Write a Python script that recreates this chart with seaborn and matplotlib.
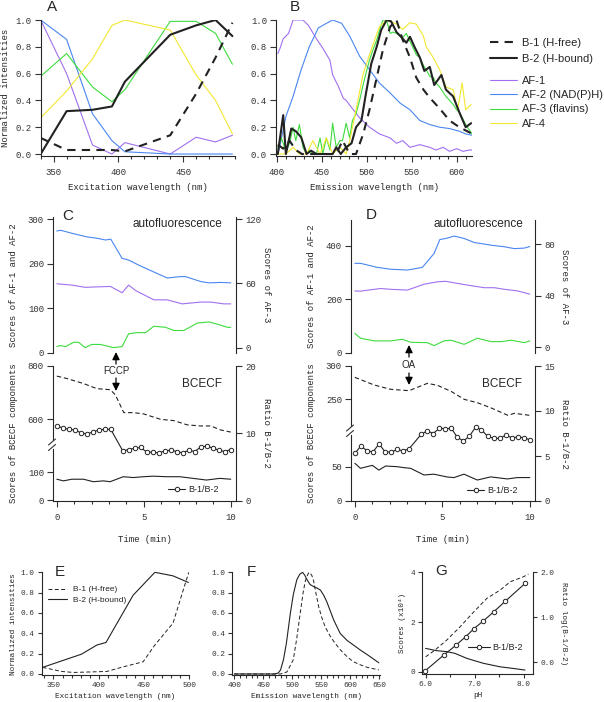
import matplotlib
matplotlib.use("Agg")
import matplotlib.pyplot as plt
import seaborn as sns
from matplotlib.ticker import FormatStrFormatter, MultipleLocator
from matplotlib.lines import Line2D
from matplotlib.patches import FancyArrowPatch

# ---------------- data ----------------
# A: excitation spectra
exc_wl = [340, 360, 380, 395, 405, 440, 460, 475, 488]
a_b1 = [0.12, 0.03, 0.03, 0.03, 0.02, 0.14, 0.45, 0.72, 0.98]
a_b2 = [0.0, 0.32, 0.33, 0.355, 0.54, 0.89, 0.96, 1.0, 0.88]
a_af1 = [1.0, 0.60, 0.067, 0.0, 0.085, 0.0, 0.125, 0.09, 0.14]
a_af2 = [1.0, 0.855, 0.30, 0.10, 0.017, 0.0, 0.0, 0.0, 0.0]
a_af3 = [0.58, 0.75, 0.50, 0.39, 0.48, 0.99, 0.99, 0.90, 0.67]
a_af4 = [0.27, 0.47, 0.71, 0.96, 1.0, 0.925, 0.59, 0.40, 0.15]

# B: emission spectra
b_af1_wl = [401, 403, 407, 413, 418, 429, 435, 444, 451, 459, 462, 468, 474, 477, 485,
            492, 503, 514, 526, 533, 540, 548, 559, 570, 577, 585, 592, 600, 607, 614, 617]
b_af1 = [0.75, 0.78, 0.86, 0.90, 1.0, 1.0, 0.96, 0.86, 0.79, 0.70, 0.59, 0.51, 0.415, 0.40, 0.33,
         0.27, 0.20, 0.15, 0.12, 0.08, 0.10, 0.05, 0.07, 0.05, 0.03, 0.05, 0.02, 0.04, 0.02, 0.03, 0.03]
b_af2_wl = [401, 403, 410, 418, 427, 436, 446, 455, 462, 472, 481, 492, 503, 514, 526,
            537, 548, 559, 570, 581, 592, 603, 610, 617]
b_af2 = [0.0, 0.05, 0.28, 0.43, 0.63, 0.80, 0.94, 0.975, 1.0, 0.975, 0.88, 0.73, 0.63, 0.53, 0.455,
         0.38, 0.33, 0.25, 0.22, 0.20, 0.19, 0.17, 0.15, 0.14]
b_af3_wl = [401, 405, 410, 414, 418, 421, 425, 429, 433, 436, 440, 444, 448, 451, 455, 459, 462,
            466, 470, 473, 477, 481, 484, 488, 492, 496, 499, 503, 507, 511, 514, 518, 522, 526,
            529, 533, 537, 540, 544, 548, 551, 555, 559, 563, 566, 570, 574, 577, 581, 585, 588,
            592, 596, 600, 603, 607, 610, 614, 617]
b_af3 = [0.05, 0.12, 0.02, 0.08, 0.20, 0.10, 0.22, 0.05, 0.0, 0.03, 0.0, 0.0, 0.12, 0.0, 0.12, 0.03,
         0.23, 0.05, 0.10, 0.10, 0.23, 0.12, 0.25, 0.30, 0.40, 0.52, 0.60, 0.70, 0.78, 0.85, 0.92,
         1.0, 1.0, 0.90, 0.91, 0.90, 0.88, 0.87, 0.90, 0.84, 0.80, 0.74, 0.72, 0.66, 0.63, 0.58,
         0.57, 0.53, 0.50, 0.46, 0.43, 0.40, 0.37, 0.33, 0.31, 0.26, 0.22, 0.18, 0.15]
b_af4_wl = [401, 410, 418, 425, 433, 440, 448, 455, 462, 470, 477, 481, 488, 496, 505, 514, 522,
            533, 540, 548, 555, 563, 566, 573, 581, 588, 596, 601, 606, 610, 616]
b_af4 = [0.0, 0.0, 0.05, 0.0, 0.0, 0.10, 0.0, 0.12, 0.0, 0.05, 0.0, 0.10, 0.33, 0.60, 0.78, 0.95,
         1.0, 0.97, 0.93, 0.98, 0.97, 0.88, 0.80, 0.73, 0.63, 0.50, 0.48, 0.33, 0.53, 0.33, 0.37]
b_b2_wl = [401, 407, 410, 416, 421, 427, 433, 438, 444, 450, 458, 462, 466, 471, 477, 483, 488,
           494, 499, 505, 511, 516, 522, 527, 533, 538, 544, 548, 553, 559, 564, 570, 575, 583,
           588, 596, 603, 610, 616]
b_b2 = [0.0, 0.29, 0.0, 0.19, 0.17, 0.125, 0.0, 0.025, 0.0, 0.0, 0.0, 0.0, 0.05, 0.0, 0.05, 0.08,
        0.20, 0.25, 0.45, 0.675, 0.80, 0.925, 1.0, 0.99, 0.91, 0.875, 0.83, 0.875, 0.80, 0.72,
        0.62, 0.65, 0.515, 0.59, 0.48, 0.43, 0.31, 0.20, 0.23]
b_b1_wl = [401, 407, 414, 421, 428, 440, 455, 466, 473, 481, 488, 496, 503, 511, 518, 526, 533,
           540, 548, 555, 563, 570, 581, 592, 603, 616]
b_b1 = [0.07, 0.04, 0.10, 0.03, 0.0, 0.0, 0.0, 0.0, 0.10, 0.0, 0.0, 0.15, 0.33, 0.57, 0.78, 0.95,
        1.0, 0.85, 0.72, 0.57, 0.48, 0.42, 0.34, 0.25, 0.20, 0.155]

# C: FCCP time course
c_af2_t = [0, 0.2, 0.87, 1.73, 2.3, 2.8, 3.1, 3.75, 4.13, 4.8, 5.77, 6.35, 7.1, 7.4, 8.27, 8.75, 9.42, 10]
c_af2 = [273, 275, 268, 260, 257, 253, 255, 212, 208, 195, 178, 168, 171, 171, 160, 157, 158, 157]
c_af1_t = [0, 0.87, 1.63, 2.3, 3.08, 3.75, 4.13, 4.52, 5.58, 6.35, 7.2, 8.27, 8.85, 9.6, 10]
c_af1 = [155, 152, 147, 148, 149, 135, 152, 140, 119, 119, 110, 114, 114, 110, 110]
c_af3_t = [0, 0.2, 0.5, 0.96, 1.25, 1.63, 2.0, 2.5, 3.27, 3.75, 4.13, 4.6, 5.1, 5.58, 6.25, 6.73,
           7.3, 8.08, 8.75, 9.42, 9.8, 10]
c_af3 = [1, 2, 1, 5, 5, 0, 3, 3, 0, 1, 13, 14, 14, 20, 19, 16, 16, 23, 24, 21, 19, 19]
c_b1_t = [0, 0.58, 1.54, 2.3, 3.08, 3.37, 3.85, 4.42, 5.0, 5.96, 6.73, 7.5, 8.27, 8.85, 9.42, 10]
c_b1 = [762, 753, 734, 715, 711, 691, 625, 625, 620, 600, 595, 579, 575, 575, 560, 552]
c_b2_t = [0, 0.38, 0.86, 1.53, 2.1, 2.68, 3.06, 3.82, 4.4, 4.97, 5.54, 6.31, 7.07, 7.84, 8.6, 9.37, 10]
c_b2 = [75, 69, 75, 75, 66, 69, 66, 84, 81, 84, 86, 84, 84, 78, 72, 78, 75]
ratio_t = [0, 0.34, 0.69, 1.03, 1.38, 1.72, 2.07, 2.41, 2.76, 3.10, 3.79, 4.14, 4.48, 4.83,
           5.17, 5.52, 5.86, 6.21, 6.55, 6.90, 7.24, 7.59, 7.93, 8.28, 8.62, 8.97, 9.31, 9.66, 10]
c_ratio = [11.1, 10.8, 10.6, 10.5, 10.1, 9.9, 10.2, 10.5, 10.6, 10.6, 7.4, 7.6, 7.8, 7.9, 7.2, 7.2,
           7.1, 7.4, 7.5, 7.3, 7.1, 7.5, 7.3, 8.0, 8.1, 7.8, 7.5, 7.3, 7.6]

# D: OA time course
d_af2_t = [0, 0.33, 1.28, 2.05, 3.0, 3.86, 4.53, 4.86, 5.2, 5.68, 6.25, 6.82, 7.78, 8.55, 9.12, 9.69, 10]
d_af2 = [335, 335, 320, 313, 310, 320, 372, 424, 428, 437, 428, 413, 403, 397, 390, 392, 398]
d_af1_t = [0, 0.3, 1.47, 2.05, 3.0, 3.96, 4.72, 5.2, 5.87, 6.6, 7.4, 7.98, 8.55, 9.3, 10]
d_af1 = [232, 231, 241, 238, 235, 257, 266, 268, 260, 252, 244, 244, 238, 232, 220]
d_af3_t = [0, 0.33, 1.1, 2.05, 2.72, 3.2, 4.15, 4.53, 5.1, 5.5, 6.25, 7.0, 7.8, 8.37, 8.94, 9.7, 10]
d_af3 = [10.8, 7, 5, 5, 6.2, 3.9, 3.6, 1.3, 5, 5.5, 2.3, 7, 4.4, 4.4, 5.5, 3.6, 5]
d_b1_t = [0, 1.1, 2.05, 3.1, 4.15, 4.72, 5.5, 6.25, 7.0, 7.8, 8.75, 9.12, 10]
d_b1 = [283, 271.5, 265, 263, 274, 271, 262, 250, 245, 237, 226, 229, 226]
d_b2_t = [0, 0.32, 1.0, 1.37, 1.76, 2.42, 2.8, 3.19, 3.95, 4.52, 5.29, 5.67, 6.24, 7.0, 7.77, 8.72, 9.3, 10]
d_b2 = [55, 47.6, 52, 45, 51, 50, 48.6, 47.6, 37.8, 39, 34.8, 34, 39, 30.4, 35, 32, 34, 34]
d_ratio = [5.3, 6.1, 5.6, 5.44, 6.33, 5.5, 5.4, 5.74, 5.56, 5.8, 7.4, 7.8, 7.5, 8.07, 8.04, 8.07,
           7.07, 6.67, 7.2, 8.2, 7.9, 7.2, 6.96, 6.96, 7.3, 7.04, 7.1, 7.04, 6.8]

# E: BCECF excitation spectra
e_b2_wl = [338, 381, 398, 408, 438, 462, 482, 499]
e_b2 = [0.065, 0.195, 0.285, 0.31, 0.775, 1.0, 0.965, 0.9]
e_b1_wl = [338, 359, 372, 409, 427, 449, 462, 482, 495, 499.5]
e_b1 = [0.065, 0.025, 0.015, 0.025, 0.07, 0.12, 0.285, 0.5, 0.875, 1.0]

# F: BCECF emission spectra
f_b2_wl = [400, 470, 476, 480, 485, 490, 497, 502, 508, 513, 518, 522, 526, 531, 537, 543, 549,
           555, 560, 566, 572, 583, 595, 606, 618, 630, 640, 650]
f_b2 = [0, 0, 0.01, 0.04, 0.14, 0.30, 0.60, 0.78, 0.925, 0.98, 1.0, 0.97, 0.925, 0.88, 0.86, 0.845,
        0.825, 0.77, 0.71, 0.62, 0.53, 0.40, 0.33, 0.285, 0.235, 0.19, 0.15, 0.11]
f_b1_wl = [400, 480, 491, 502, 508, 514, 519, 523, 528, 530, 534, 537, 541, 546, 551, 557, 565,
           572, 583, 595, 606, 618, 630, 650]
f_b1 = [0, 0, 0.02, 0.14, 0.35, 0.60, 0.80, 0.92, 0.99, 1.0, 0.97, 0.92, 0.80, 0.66, 0.56, 0.465,
        0.38, 0.32, 0.24, 0.17, 0.12, 0.09, 0.065, 0.04]

# G: pH calibration
g_ph_b1 = [6.0, 6.19, 6.43, 6.7, 6.98, 7.25, 7.52, 7.73, 8.0, 8.1]
g_b1 = [0.6, 0.87, 1.27, 1.8, 2.4, 2.95, 3.28, 3.62, 3.82, 3.93]
g_ph_b2 = [6.0, 6.22, 6.43, 6.6, 6.84, 7.18, 7.52, 7.8, 8.03]
g_b2 = [0.94, 0.85, 0.81, 0.74, 0.54, 0.34, 0.20, 0.13, 0.07]
g_ph_ratio = [5.99, 6.37, 6.62, 6.82, 6.99, 7.18, 7.39, 7.63, 8.04]
g_ratio = [-0.19, 0.16, 0.38, 0.57, 0.75, 0.92, 1.12, 1.36, 1.76]

# ---------------- style ----------------
COL_AF1 = "#a070f0"
COL_AF2 = "#4a86f0"
COL_AF3 = "#3ddc3d"
COL_AF4 = "#f2e830"
INK = "#222222"
MONO = ["Liberation Mono", "DejaVu Sans Mono"]
SANS = ["Liberation Sans", "DejaVu Sans"]

sns.set_style("ticks")
plt.rcParams["font.family"] = MONO
plt.rcParams["font.size"] = 6.5
plt.rcParams["axes.linewidth"] = 0.8
plt.rcParams["axes.facecolor"] = "none"
for k in ("xtick", "ytick"):
    plt.rcParams[k + ".major.size"] = 4
    plt.rcParams[k + ".minor.size"] = 2
    plt.rcParams[k + ".major.width"] = 0.8
    plt.rcParams[k + ".minor.width"] = 0.8
    plt.rcParams[k + ".labelsize"] = 6.5
    plt.rcParams[k + ".color"] = "#333333"
plt.rcParams["xtick.major.pad"] = 5
plt.rcParams["ytick.major.pad"] = 2.5

W, H = 604, 702
fig = plt.figure(figsize=(W / 100, H / 100), dpi=100)


def box(x0, y0, x1, y1):
    # pixel box (from top-left) -> figure rect
    return [x0 / W, 1 - y1 / H, (x1 - x0) / W, (y1 - y0) / H]


def fpos(x, y):
    return (x / W, 1 - y / H)


def line(ax, x, y, **kw):
    sns.lineplot(x=x, y=y, ax=ax, estimator=None, sort=False, **kw)
    return ax.lines[-1]


def only_spines(ax, keep):
    for s in ("left", "right", "top", "bottom"):
        ax.spines[s].set_visible(s in keep)


# ---------------- A ----------------
axA = fig.add_axes(box(40.7, 20, 235, 155.5))
line(axA, exc_wl, a_af1, color=COL_AF1, lw=0.8)
line(axA, exc_wl, a_af2, color=COL_AF2, lw=0.8)
line(axA, exc_wl, a_af3, color=COL_AF3, lw=0.8)
line(axA, exc_wl, a_af4, color=COL_AF4, lw=0.8)
line(axA, exc_wl, a_b1, color=INK, lw=1.5, ls=(0, (4, 3)))
line(axA, exc_wl, a_b2, color=INK, lw=1.5)
axA.set_xlim(340, 490)
axA.set_ylim(-0.011, 1.0)
axA.set_xlabel("Excitation wavelength (nm)", labelpad=4)
axA.set_ylabel("Normalized intensities", labelpad=4)

# ---------------- B ----------------
axB = fig.add_axes(box(276, 20, 472, 155.5))
h_af1 = line(axB, b_af1_wl, b_af1, color=COL_AF1, lw=0.8)
h_af2 = line(axB, b_af2_wl, b_af2, color=COL_AF2, lw=0.8)
h_af3 = line(axB, b_af3_wl, b_af3, color=COL_AF3, lw=0.8)
h_af4 = line(axB, b_af4_wl, b_af4, color=COL_AF4, lw=0.8)
h_b1 = line(axB, b_b1_wl, b_b1, color=INK, lw=1.5, ls=(0, (4, 3)))
h_b2 = line(axB, b_b2_wl, b_b2, color=INK, lw=1.5)
axB.set_xlim(399, 617)
axB.set_ylim(-0.011, 1.0)
axB.set_xlabel("Emission wavelength (nm)", labelpad=4)

for ax in (axA, axB):
    only_spines(ax, ("left", "bottom"))
    ax.xaxis.set_major_locator(MultipleLocator(50))
    ax.xaxis.set_minor_locator(MultipleLocator(10))
    ax.yaxis.set_major_locator(MultipleLocator(0.2))
    ax.yaxis.set_major_formatter(FormatStrFormatter("%.1f"))

fig.legend([h_b1, h_b2], ["B-1 (H-free)", "B-2 (H-bound)"], loc="upper left",
           bbox_to_anchor=fpos(490, 38), frameon=False, borderpad=0, borderaxespad=0,
           handlelength=2.4, handletextpad=0.5, labelspacing=0.5,
           prop={"family": SANS, "size": 8})
fig.legend([h_af1, h_af2, h_af3, h_af4],
           ["AF-1", "AF-2 (NAD(P)H)", "AF-3 (flavins)", "AF-4"], loc="upper left",
           bbox_to_anchor=fpos(490, 76), frameon=False, borderpad=0, borderaxespad=0,
           handlelength=2.4, handletextpad=0.5, labelspacing=0.38,
           prop={"family": SANS, "size": 8})


# ---------------- C / D time courses ----------------
def time_panel(x0, x1, top, top_l, top_r, lo, lo_up, lo_dn, brk, data):
    (af1_t, af1, af2_t, af2, af3_t, af3, b1_t, b1, b2_t, b2, ratio) = data
    lab_l = -34.5 / (x1 - x0)
    lab_r = 214 / (x1 - x0)

    # autofluorescence
    axT = fig.add_axes(box(x0, top[0], x1, top[1]))
    line(axT, af2_t, af2, color=COL_AF2, lw=0.8)
    line(axT, af1_t, af1, color=COL_AF1, lw=0.8)
    axT.set_ylim(*top_l[0])
    axT.yaxis.set_major_locator(MultipleLocator(top_l[1]))
    axT.set_xlim(-0.22, 10.3)
    axT.set_xticks([])
    only_spines(axT, ("left",))
    axT.set_ylabel("Scores of AF-1 and AF-2")
    axT.yaxis.set_label_coords(lab_l, 0.5)
    axT2 = axT.twinx()
    line(axT2, af3_t, af3, color=COL_AF3, lw=0.8)
    axT2.set_ylim(*top_r[0])
    axT2.yaxis.set_major_locator(MultipleLocator(top_r[1]))
    only_spines(axT2, ("right",))
    axT2.set_ylabel("Scores of AF-3", rotation=270, va="center")
    axT2.yaxis.set_label_coords(lab_r, 0.5)

    # BCECF: ratio axis carries the time axis
    axR = fig.add_axes(box(x0, lo[0], x1, lo[1]))
    hr = line(axR, ratio_t, ratio, color=INK, lw=0.8, marker="o", markersize=3.2,
              markerfacecolor="white", markeredgecolor=INK, markeredgewidth=0.7)
    axR.set_xlim(-0.22, 10.3)
    axR.set_ylim(*lo[2])
    axR.yaxis.set_major_locator(MultipleLocator(lo[3]))
    axR.yaxis.tick_right()
    axR.yaxis.set_label_position("right")
    axR.set_ylabel("Ratio B-1/B-2", rotation=270, va="center")
    axR.yaxis.set_label_coords(lab_r, 0.5)
    only_spines(axR, ("right", "bottom"))
    axR.xaxis.set_major_locator(MultipleLocator(5))
    axR.xaxis.set_minor_locator(MultipleLocator(1))
    axR.set_xlabel("Time (min)", labelpad=9)
    axR.legend([hr], ["B-1/B-2"], loc="center right", bbox_to_anchor=(0.93, 0.08),
               frameon=False, borderpad=0, handlelength=1.9, handletextpad=0.3,
               prop={"family": SANS, "size": 6.5})

    axU = fig.add_axes(box(x0, lo[0], x1, lo_up[0]))
    line(axU, b1_t, b1, color=INK, lw=0.8, ls=(0, (4, 2.5)))
    axU.set_ylim(*lo_up[1])
    axU.yaxis.set_major_locator(MultipleLocator(lo_up[2]))
    axU.set_xlim(-0.22, 10.3)
    axU.set_xticks([])
    only_spines(axU, ("left",))

    axL = fig.add_axes(box(x0, lo_dn[0], x1, lo[1]))
    line(axL, b2_t, b2, color=INK, lw=0.8)
    axL.set_ylim(*lo_dn[1])
    axL.yaxis.set_major_locator(MultipleLocator(lo_dn[2]))
    axL.set_xlim(-0.22, 10.3)
    axL.set_xticks([])
    only_spines(axL, ("left",))
    fig.text((x0 - 39) / W, 1 - (lo[0] + lo[1]) / 2 / H, "Scores of BCECF components",
             rotation=90, ha="center", va="center", fontsize=6.5)

    # axis break marks
    for dy in (0, 5.5):
        fig.add_artist(Line2D([(x0 - 4.5) / W, (x0 + 2.5) / W],
                              [1 - (brk + 3 + dy) / H, 1 - (brk - 3 + dy) / H],
                              color="#333333", lw=0.8))
    return axT, axR


time_panel(53, 236, (217, 353), ((0, 304.5), 100), ((-5, 122), 60),
           (366, 500.7, (0, 20), 10), (440, (522.3, 800), 200), (449, (-2.5, 184), 100), 442,
           (c_af1_t, c_af1, c_af2_t, c_af2, c_af3_t, c_af3, c_b1_t, c_b1, c_b2_t, c_b2, c_ratio))

time_panel(351, 535, (220, 353), ((0, 497), 200), ((-4.4, 98.6), 40),
           (366, 501, (0, 15), 5), (426, (210, 300), 50), (435, (-0.45, 96.6), 50), 428,
           (d_af1_t, d_af1, d_af2_t, d_af2, d_af3_t, d_af3, d_b1_t, d_b1, d_b2_t, d_b2, d_ratio))

# texts and arrows for C, D
for xr in (222, 523):
    fig.text(xr / W, 1 - 224 / H, "autofluorescence", ha="right", va="center",
             family=SANS, fontsize=8.5)
for xr in (222, 522):
    fig.text(xr / W, 1 - 384 / H, "BCECF", ha="right", va="center", family=SANS, fontsize=8.5)
fig.text(116 / W, 1 - 371 / H, "FCCP", ha="center", va="center", family=SANS, fontsize=7)
fig.text(409 / W, 1 - 365 / H, "OA", ha="center", va="center", family=SANS, fontsize=7)
for (x, y0, y1) in ((116, 364, 352), (116, 378, 391), (409, 357, 345), (409, 373, 385)):
    fig.add_artist(FancyArrowPatch(fpos(x, y0), fpos(x, y1), transform=fig.transFigure,
                                   arrowstyle="-|>,head_length=0.45,head_width=0.22",
                                   mutation_scale=10, color="black", lw=0.9,
                                   shrinkA=0, shrinkB=0))

# ---------------- E ----------------
small = 5.6
axE = fig.add_axes(box(41.7, 572.3, 189.3, 675))
he1 = line(axE, e_b1_wl, e_b1, color=INK, lw=0.7, ls=(0, (4, 2.5)))
he2 = line(axE, e_b2_wl, e_b2, color=INK, lw=0.8)
axE.set_xlim(337, 500)
axE.set_ylim(-0.01, 1.0)
axE.set_xlabel("Excitation wavelength (nm)", fontsize=small, labelpad=3)
axE.set_ylabel("Normalized intensities", fontsize=small, labelpad=3)
axE.legend([he1, he2], ["B-1 (H-free)", "B-2 (H-bound)"], loc="upper left",
           bbox_to_anchor=(0.04, 0.87), frameon=False, borderpad=0, borderaxespad=0,
           handlelength=2.3, handletextpad=0.7, labelspacing=0.3,
           prop={"family": SANS, "size": 6})

# ---------------- F ----------------
axF = fig.add_axes(box(232.3, 572.3, 380, 675))
line(axF, f_b1_wl, f_b1, color=INK, lw=0.7, ls=(0, (4, 2.5)))
line(axF, f_b2_wl, f_b2, color=INK, lw=0.8)
axF.set_xlim(396.5, 652)
axF.set_ylim(-0.01, 1.0)
axF.set_xlabel("Emission wavelength (nm)", fontsize=small, labelpad=3)

for ax in (axE, axF):
    only_spines(ax, ("left", "bottom"))
    ax.xaxis.set_major_locator(MultipleLocator(50))
    ax.xaxis.set_minor_locator(MultipleLocator(10))
    ax.yaxis.set_major_locator(MultipleLocator(0.2))
    ax.yaxis.set_major_formatter(FormatStrFormatter("%.1f"))
    ax.tick_params(labelsize=small, length=3, pad=2)
    ax.tick_params(which="minor", length=2)

# ---------------- G ----------------
axG = fig.add_axes(box(421.7, 572.3, 533.3, 674))
line(axG, g_ph_b1, g_b1, color=INK, lw=0.7, ls=(0, (4, 2.5)))
line(axG, g_ph_b2, g_b2, color=INK, lw=0.8)
axG.set_xlim(5.92, 8.2)
axG.set_ylim(-0.09, 4.0)
axG.yaxis.set_major_locator(MultipleLocator(2))
axG.xaxis.set_major_locator(MultipleLocator(1))
axG.xaxis.set_minor_locator(MultipleLocator(0.5))
axG.xaxis.set_major_formatter(FormatStrFormatter("%.1f"))
axG.set_xlabel("pH", fontsize=small, labelpad=3)
axG.set_ylabel("Scores (x10\u2074)", fontsize=small, labelpad=3)
only_spines(axG, ("left", "bottom"))
axG.tick_params(labelsize=small, length=3, pad=2)
axG2 = axG.twinx()
hg = line(axG2, g_ph_ratio, g_ratio, color=INK, lw=0.8, marker="o", markersize=3.2,
          markerfacecolor="white", markeredgecolor=INK, markeredgewidth=0.7)
axG2.set_ylim(-0.26, 2.0)
axG2.yaxis.set_major_locator(MultipleLocator(1))
axG2.yaxis.set_major_formatter(FormatStrFormatter("%.1f"))
axG2.set_ylabel("Ratio log(B-1/B-2)", rotation=270, fontsize=small, va="center")
axG2.yaxis.set_label_coords((563 - 421.7) / 111.6, 0.5)
only_spines(axG2, ("right",))
axG2.tick_params(labelsize=small, length=3, pad=2)
axG2.legend([hg], ["B-1/B-2"], loc="center right", bbox_to_anchor=(0.95, 0.256),
            frameon=False, borderpad=0, handlelength=2.4, handletextpad=0.3,
            prop={"family": SANS, "size": 6.5})

# ---------------- panel letters ----------------
for letter, x, y in (("A", 47, 7), ("B", 290, 7), ("C", 62, 216), ("D", 366, 215),
                     ("E", 55, 572), ("F", 247, 572), ("G", 435, 571)):
    fig.text(x / W, 1 - y / H, letter, ha="left", va="center", family=SANS, fontsize=11)

fig.savefig("out.png", dpi=100)
